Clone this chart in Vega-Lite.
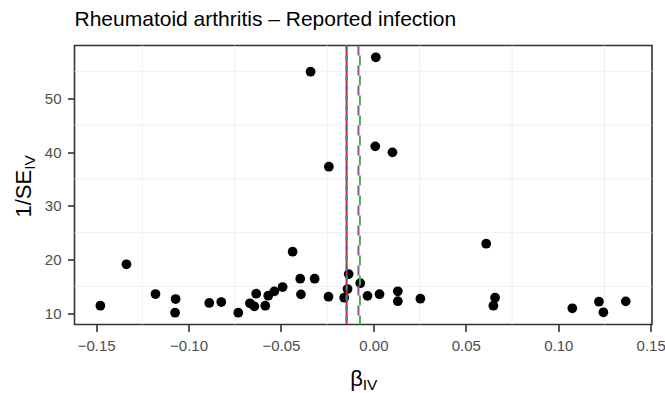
{
  "$schema": "https://vega.github.io/schema/vega-lite/v6.json",
  "width": 577.5,
  "height": 279,
  "autosize": "none",
  "padding": {"left": 74.5, "top": 45.5, "right": 13, "bottom": 68.5},
  "background": "white",
  "title": {
    "text": "Rheumatoid arthritis – Reported infection",
    "anchor": "start",
    "frame": "group",
    "font": "Liberation Sans",
    "fontSize": 21,
    "fontWeight": "normal",
    "color": "black",
    "baseline": "alphabetic",
    "offset": 19,
    "dy": 21.5
  },
  "config": {
    "view": {"stroke": "#333333", "strokeWidth": 1.6},
    "axis": {
      "domain": false,
      "labelFont": "Liberation Sans",
      "titleFont": "Liberation Sans",
      "labelColor": "#4D4D4D",
      "labelFontSize": 15,
      "tickColor": "#333333",
      "tickWidth": 1.6,
      "tickSize": 7,
      "labelPadding": 6.5,
      "gridColor": "#EBEBEB",
      "gridWidth": 1.6,
      "titleColor": "black",
      "titleFontWeight": "normal",
      "titleFontSize": 22
    }
  },
  "resolve": {"axis": {"x": "independent", "y": "independent"}},
  "layer": [
    {
      "data": {"values": [{"gx": -0.125}, {"gx": -0.075}, {"gx": -0.025}, {"gx": 0.025}, {"gx": 0.075}, {"gx": 0.125}]},
      "mark": {"type": "rule", "color": "#EBEBEB", "strokeWidth": 0.8},
      "encoding": {
        "x": {
          "field": "gx", "type": "quantitative",
          "scale": {"domain": [-0.1617, 0.1507], "zero": false, "nice": false},
          "axis": {"orient": "bottom", "title": "IV", "titleFontSize": 15.5, "labels": false, "ticks": false, "grid": false, "domain": false, "titleX": 287.7, "titleY": 65, "titleAlign": "left", "titleBaseline": "alphabetic"}
        }
      }
    },
    {
      "data": {"values": [{"gy": 15}, {"gy": 25}, {"gy": 35}, {"gy": 45}, {"gy": 55}]},
      "mark": {"type": "rule", "color": "#EBEBEB", "strokeWidth": 0.8},
      "encoding": {
        "y": {
          "field": "gy", "type": "quantitative",
          "scale": {"domain": [7.92, 59.82], "zero": false, "nice": false},
          "axis": {"orient": "left", "title": "IV", "titleFontSize": 15.5, "labels": false, "ticks": false, "grid": false, "domain": false, "titleX": -40, "titleY": 123.8, "titleAngle": 270, "titleAlign": "left", "titleBaseline": "alphabetic"}
        }
      }
    },
    {
      "data": {"values": [
        {"beta": -0.1477, "inv_se": 11.41},
        {"beta": -0.1336, "inv_se": 19.12},
        {"beta": -0.1179, "inv_se": 13.59},
        {"beta": -0.1070, "inv_se": 12.66},
        {"beta": -0.1073, "inv_se": 10.11},
        {"beta": -0.0888, "inv_se": 11.92},
        {"beta": -0.0823, "inv_se": 12.10},
        {"beta": -0.0731, "inv_se": 10.11},
        {"beta": -0.0668, "inv_se": 11.86},
        {"beta": -0.0644, "inv_se": 11.30},
        {"beta": -0.0634, "inv_se": 13.65},
        {"beta": -0.0585, "inv_se": 11.41},
        {"beta": -0.0569, "inv_se": 13.28},
        {"beta": -0.0536, "inv_se": 14.09},
        {"beta": -0.0491, "inv_se": 14.89},
        {"beta": -0.0437, "inv_se": 21.46},
        {"beta": -0.0396, "inv_se": 16.44},
        {"beta": -0.0392, "inv_se": 13.53},
        {"beta": -0.0340, "inv_se": 54.95},
        {"beta": -0.0318, "inv_se": 16.44},
        {"beta": -0.0243, "inv_se": 13.09},
        {"beta": -0.0241, "inv_se": 37.27},
        {"beta": -0.0158, "inv_se": 12.90},
        {"beta": -0.0140, "inv_se": 14.52},
        {"beta": -0.0134, "inv_se": 17.30},
        {"beta": -0.0071, "inv_se": 15.60},
        {"beta": -0.0032, "inv_se": 13.25},
        {"beta": 0.0010, "inv_se": 41.06},
        {"beta": 0.0013, "inv_se": 57.63},
        {"beta": 0.0033, "inv_se": 13.55},
        {"beta": 0.0103, "inv_se": 39.94},
        {"beta": 0.0132, "inv_se": 14.10},
        {"beta": 0.0132, "inv_se": 12.25},
        {"beta": 0.0254, "inv_se": 12.72},
        {"beta": 0.0610, "inv_se": 22.95},
        {"beta": 0.0649, "inv_se": 11.41},
        {"beta": 0.0658, "inv_se": 12.90},
        {"beta": 0.1076, "inv_se": 10.93},
        {"beta": 0.1220, "inv_se": 12.16},
        {"beta": 0.1244, "inv_se": 10.19},
        {"beta": 0.1365, "inv_se": 12.23}
      ]},
      "mark": {"type": "circle", "color": "black", "opacity": 1, "size": 95},
      "encoding": {
        "x": {
          "field": "beta", "type": "quantitative",
          "scale": {"domain": [-0.1617, 0.1507], "zero": false, "nice": false},
          "axis": {"orient": "bottom", "values": [-0.15, -0.1, -0.05, 0, 0.05, 0.1, 0.15], "format": ".2f", "title": "β", "titleX": 275.2, "titleY": 61, "titleAlign": "left", "titleBaseline": "alphabetic"}
        },
        "y": {
          "field": "inv_se", "type": "quantitative",
          "scale": {"domain": [7.92, 59.82], "zero": false, "nice": false},
          "axis": {"orient": "left", "values": [10, 20, 30, 40, 50], "format": "d", "title": "1/SE", "titleX": -44.5, "titleY": 171.5, "titleAngle": 270, "titleAlign": "left", "titleBaseline": "alphabetic"}
        }
      }
    },
    {
      "data": {"values": [{"method": "IVW", "estimate": -0.0145}]},
      "mark": {"type": "rule", "color": "#E41A1C", "strokeWidth": 2},
      "encoding": {"x": {"field": "estimate", "type": "quantitative", "scale": {"domain": [-0.1617, 0.1507], "zero": false, "nice": false}, "axis": null}}
    },
    {
      "data": {"values": [{"method": "IVW FE", "estimate": -0.0145}]},
      "mark": {"type": "rule", "color": "#377EB8", "strokeWidth": 2, "strokeDash": [5, 5]},
      "encoding": {"x": {"field": "estimate", "type": "quantitative", "scale": {"domain": [-0.1617, 0.1507], "zero": false, "nice": false}, "axis": null}}
    },
    {
      "data": {"values": [{"method": "Weighted median", "estimate": -0.0073}]},
      "mark": {"type": "rule", "color": "#4DAF4A", "strokeWidth": 2, "strokeDash": [10, 10], "strokeDashOffset": 10},
      "encoding": {"x": {"field": "estimate", "type": "quantitative", "scale": {"domain": [-0.1617, 0.1507], "zero": false, "nice": false}, "axis": null}}
    },
    {
      "data": {"values": [{"method": "Weighted mode", "estimate": -0.0081}]},
      "mark": {"type": "rule", "color": "#984EA3", "strokeWidth": 2, "strokeDash": [10, 10]},
      "encoding": {"x": {"field": "estimate", "type": "quantitative", "scale": {"domain": [-0.1617, 0.1507], "zero": false, "nice": false}, "axis": null}}
    }
  ]
}
